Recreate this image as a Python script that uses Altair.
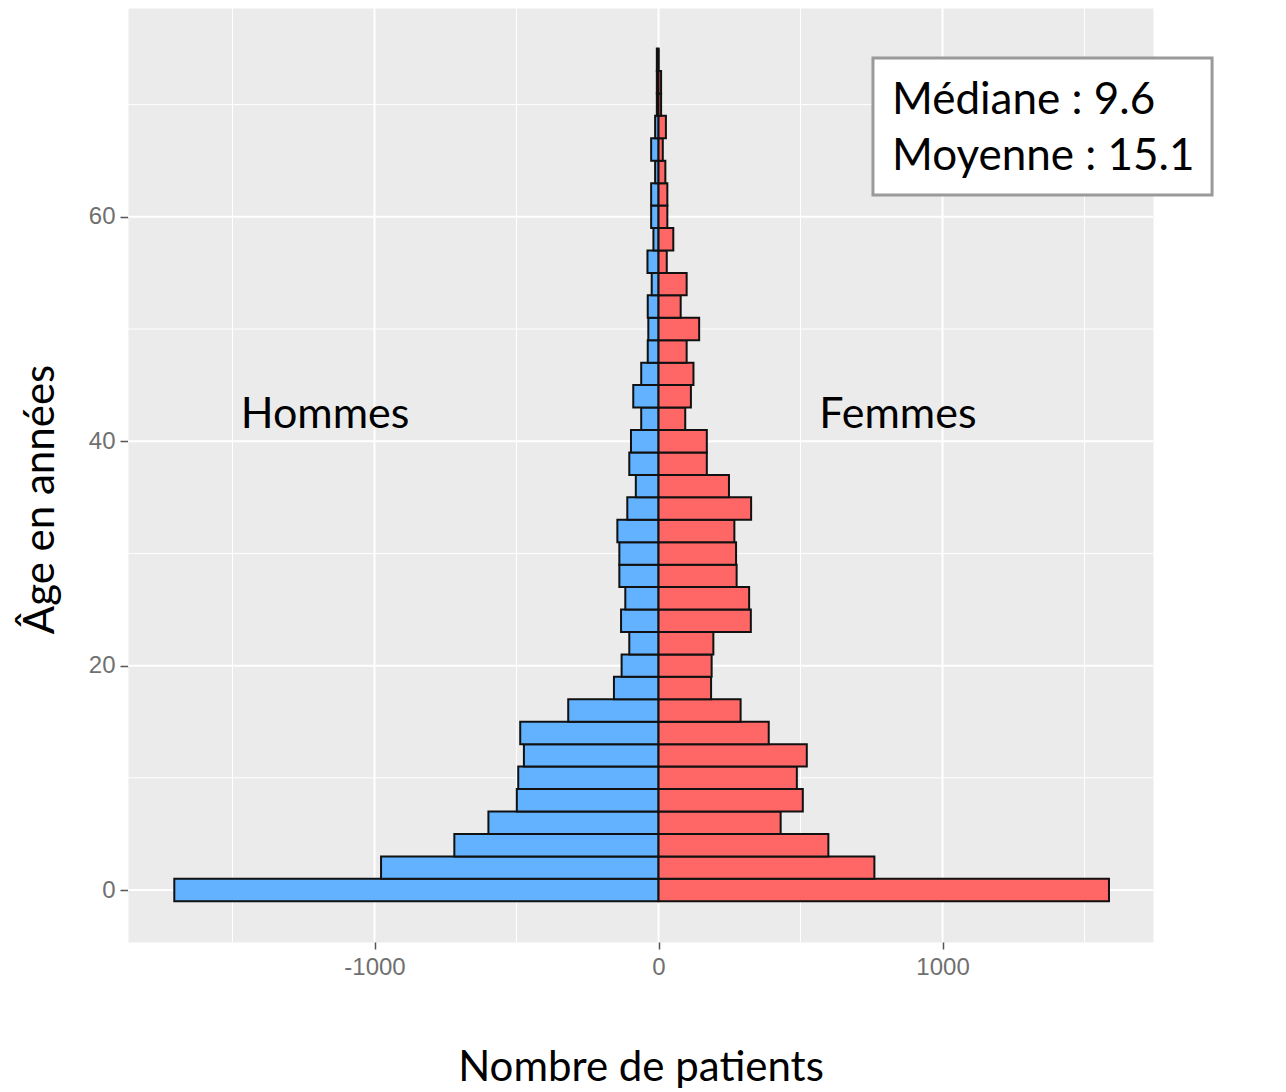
import altair as alt
import pandas as pd

# ---- data ----
ages = list(range(0, 76, 2))
hommes = [-1705, -977, -719, -599, -499, -494, -474, -487, -318, -157,
          -130, -103, -132, -117, -138, -138, -145, -110, -80, -103,
          -97, -61, -89, -61, -38, -36, -38, -24, -39, -18,
          -26, -26, -12, -26, -12, -6, -6, -6]
femmes = [1586, 760, 598, 430, 508, 487, 522, 388, 289, 185,
          187, 193, 325, 319, 275, 273, 267, 326, 248, 170,
          170, 94, 114, 123, 99, 143, 78, 99, 29, 52,
          31, 31, 24, 15, 26, 9, 9, 0]
groupes = ["Hommes", "Femmes"]
couleurs = ["#62B2FF", "#FF6666"]
x_ticks = [-1000, 0, 1000]
x_minor = [-1500, -500, 500, 1500]
y_ticks = [0, 20, 40, 60]
y_minor = [10, 30, 50, 70]
stats_lines = ["Médiane : 9.6", "Moyenne : 15.1"]

rows = []
for a, h, f in zip(ages, hommes, femmes):
    rows.append({"sexe": "Hommes", "value": h, "zero": 0, "lo": a - 1, "hi": a + 1})
    rows.append({"sexe": "Femmes", "value": f, "zero": 0, "lo": a - 1, "hi": a + 1})
df = pd.DataFrame(rows)

xscale = alt.Scale(domain=[-1868, 1741], nice=False, zero=False)
yscale = alt.Scale(domain=[-4.63, 78.61], nice=False, zero=False)

common_axis = dict(
    grid=False, domain=False,
    labelFont="Liberation Sans", labelFontSize=24, labelColor="#707070",
    labelExpr="'' + datum.value",
    tickColor="#555555", tickWidth=1.5,
    titleFont="Lato", titleFontSize=42, titleFontWeight="normal", titleColor="#000000",
)
xaxis = alt.Axis(values=x_ticks, title="Nombre de patients", tickSize=7, labelPadding=6,
                 titleY=138, titleBaseline="alphabetic", **common_axis)
yaxis = alt.Axis(values=y_ticks, title="Âge en années", tickSize=8, labelPadding=5,
                 titleX=-88, titleY=491, titleAngle=270, titleBaseline="middle", **common_axis)


def X(field):
    return alt.X(field, type="quantitative", scale=xscale, axis=xaxis)


def Y(field):
    return alt.Y(field, type="quantitative", scale=yscale, axis=yaxis)


major_x = alt.Chart(pd.DataFrame({"value": x_ticks})).mark_rule(color="white", strokeWidth=2).encode(x=X("value"))
minor_x = alt.Chart(pd.DataFrame({"value": x_minor})).mark_rule(color="white", strokeWidth=1).encode(x=X("value"))
major_y = alt.Chart(pd.DataFrame({"lo": y_ticks})).mark_rule(color="white", strokeWidth=2).encode(y=Y("lo"))
minor_y = alt.Chart(pd.DataFrame({"lo": y_minor})).mark_rule(color="white", strokeWidth=1).encode(y=Y("lo"))

bars = alt.Chart(df).mark_bar(stroke="#111111", strokeWidth=2).encode(
    x=X("value"), x2="zero:Q",
    y=Y("lo"), y2="hi:Q",
    color=alt.Color("sexe:N", scale=alt.Scale(domain=groupes, range=couleurs), legend=None),
)

labels_df = pd.DataFrame({"sexe": groupes, "value": [-1174, 843], "lo": [41.2, 41.2]})
group_labels = alt.Chart(labels_df).mark_text(
    font="Lato", fontSize=43, color="#000000", align="center", baseline="alphabetic"
).encode(x=X("value"), y=Y("lo"), text="sexe:N")

box_df = pd.DataFrame({"value": [755], "value2": [1949], "lo": [61.94], "hi": [74.15]})
box = alt.Chart(box_df).mark_rect(fill="white", stroke="#9a9a9a", strokeWidth=3).encode(
    x=X("value"), x2="value2:Q", y=Y("lo"), y2="hi:Q"
)

stats_df = pd.DataFrame({"txt": stats_lines, "value": [822, 822], "lo": [69.2, 64.2]})
stats = alt.Chart(stats_df).mark_text(
    font="Lato", fontSize=44, color="#000000", align="left", baseline="alphabetic"
).encode(x=X("value"), y=Y("lo"), text="txt:N")

chart = alt.layer(minor_x, minor_y, major_x, major_y, bars, group_labels, box, stats).properties(
    width=1025, height=934,
    autosize=alt.AutoSizeParams(type="none"),
    padding={"left": 120, "top": 0, "right": 100, "bottom": 150},
).configure(background="white").configure_view(fill="#EBEBEB", stroke="transparent")

chart.save("out.html", embed_options={"renderer": "svg", "actions": False})
